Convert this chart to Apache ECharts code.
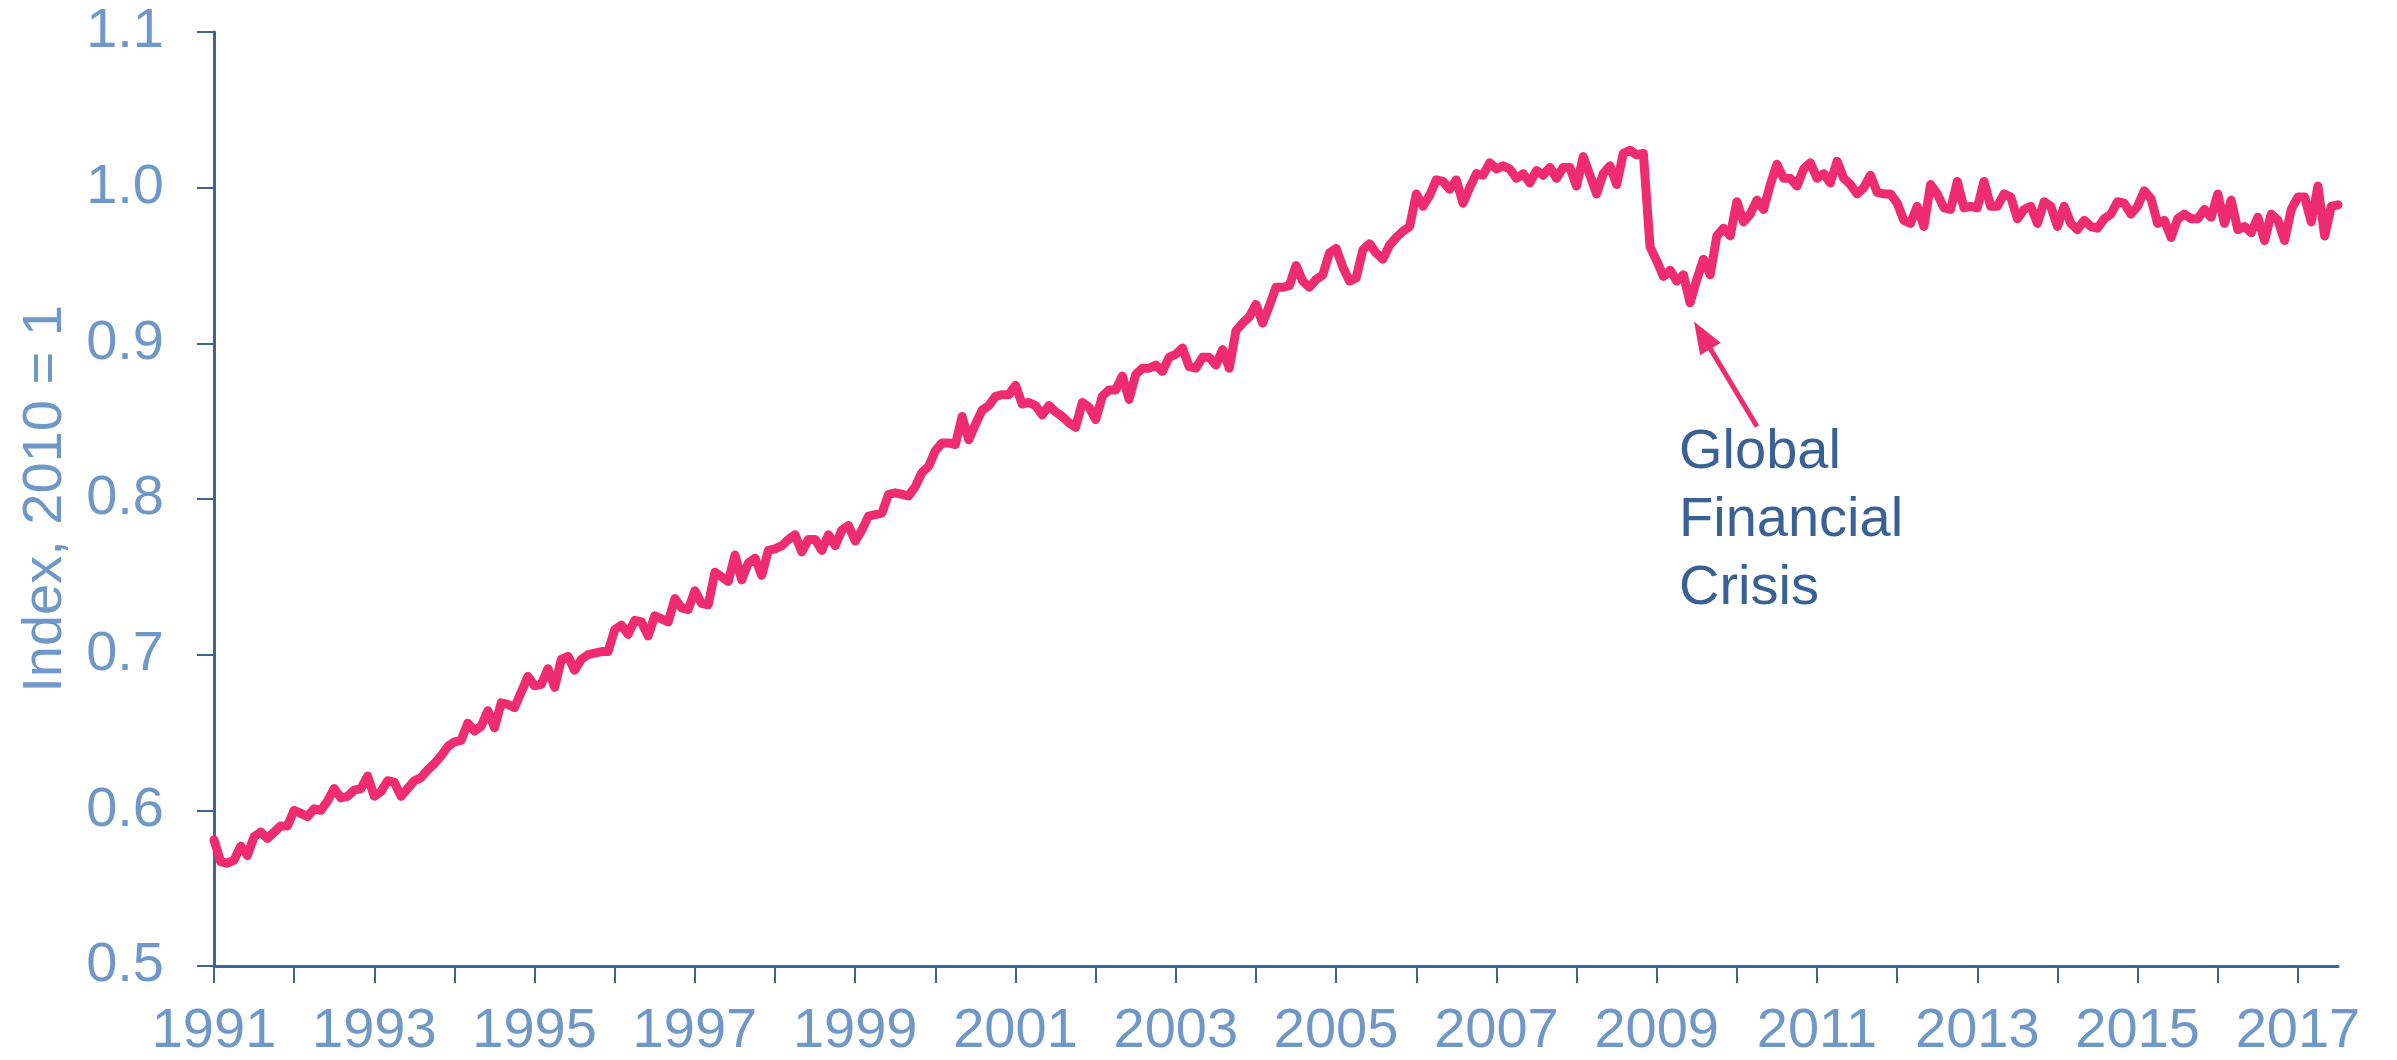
<!DOCTYPE html>
<html>
<head>
<meta charset="utf-8">
<script src="https://cdn.jsdelivr.net/npm/echarts@6/dist/echarts.min.js"></script>
<style>
html,body{margin:0;padding:0;background:#fff;}
#chart{width:2397px;height:1060px;}
</style>
</head>
<body>
<div id="chart"></div>
<script>
// Monthly index values (2010 = 1), starting January 1991
const startYear = 1991;
const v1991_1995 = [
  0.581,0.567,0.566,0.568,0.577,0.571,0.583,0.586,0.582,0.586,0.590,0.590,
  0.600,0.598,0.596,0.601,0.600,0.606,0.614,0.608,0.609,0.613,0.614,0.622,
  0.609,0.612,0.619,0.618,0.609,0.614,0.619,0.621,0.626,0.630,0.635,0.641,
  0.644,0.645,0.656,0.651,0.654,0.664,0.653,0.669,0.668,0.666,0.676,0.686,
  0.680,0.681,0.691,0.679,0.697,0.699,0.690,0.697,0.700,0.701,0.702,0.702
];
const v1996_2000 = [
  0.716,0.719,0.713,0.722,0.721,0.712,0.725,0.723,0.721,0.736,0.730,0.729,
  0.741,0.733,0.732,0.753,0.750,0.747,0.764,0.748,0.759,0.762,0.751,0.767,
  0.768,0.770,0.774,0.777,0.766,0.774,0.774,0.767,0.777,0.770,0.780,0.783,
  0.773,0.780,0.789,0.790,0.791,0.803,0.804,0.803,0.802,0.808,0.817,0.821,
  0.831,0.836,0.836,0.835,0.853,0.838,0.848,0.857,0.860,0.866,0.867,0.867
];
const v2001_2005 = [
  0.873,0.861,0.862,0.860,0.854,0.860,0.856,0.853,0.849,0.846,0.862,0.859,
  0.851,0.866,0.870,0.870,0.879,0.864,0.880,0.884,0.884,0.886,0.882,0.891,
  0.893,0.897,0.885,0.884,0.891,0.891,0.886,0.896,0.884,0.908,0.913,0.917,
  0.925,0.913,0.924,0.936,0.936,0.937,0.950,0.940,0.936,0.941,0.944,0.958,
  0.961,0.949,0.940,0.942,0.960,0.964,0.958,0.954,0.963,0.968,0.972,0.975
];
const v2006_2010 = [
  0.996,0.988,0.995,1.005,1.004,0.999,1.005,0.990,1.000,1.009,1.008,1.016,
  1.012,1.014,1.012,1.006,1.009,1.003,1.011,1.008,1.013,1.006,1.013,1.013,
  1.001,1.020,1.008,0.996,1.009,1.014,1.002,1.022,1.024,1.021,1.022,0.962,
  0.953,0.943,0.947,0.940,0.944,0.926,0.941,0.954,0.944,0.969,0.974,0.969,
  0.991,0.978,0.983,0.992,0.986,1.002,1.015,1.006,1.006,1.001,1.012,1.016
];
const v2011_2017 = [
  1.006,1.009,1.003,1.017,1.006,1.002,0.996,1.000,1.008,0.997,0.996,0.996,
  0.990,0.979,0.977,0.988,0.975,1.002,0.996,0.987,0.986,1.004,0.987,0.988,
  0.987,1.004,0.988,0.988,0.996,0.994,0.980,0.986,0.988,0.977,0.991,0.988,
  0.975,0.988,0.977,0.973,0.979,0.975,0.974,0.980,0.983,0.991,0.990,0.983,
  0.988,0.998,0.993,0.977,0.979,0.968,0.980,0.983,0.980,0.980,0.986,0.981,
  0.996,0.977,0.992,0.973,0.975,0.971,0.981,0.966,0.983,0.979,0.966,0.986,
  0.994,0.994,0.978,1.001,0.969,0.988,0.989
];
const yTicks = [0.5, 0.6, 0.7, 0.8, 0.9, 1.0, 1.1];
const xTickYears = [1991,1992,1993,1994,1995,1996,1997,1998,1999,2000,2001,2002,2003,2004,2005,2006,2007,2008,2009,2010,2011,2012,2013,2014,2015,2016,2017];
const xLabelYears = [1991,1993,1995,1997,1999,2001,2003,2005,2007,2009,2011,2013,2015,2017];
const yAxisTitle = 'Index, 2010 = 1';
const annotationText = 'Global\nFinancial\nCrisis';
// Arrow: from the text up toward the 2009 trough (data coordinates)
const arrowFrom = [2010.251, 0.8466];
const arrowTo = [2009.465, 0.914];

const monthly = [].concat(v1991_1995, v1996_2000, v2001_2005, v2006_2010, v2011_2017);
const seriesData = monthly.map((v, i) => [startYear + i / 12, v]);

const FONT = "'Liberation Sans', Arial, sans-serif";
const LABEL_COLOR = '#6F98C9';
const AXIS_COLOR = '#3D6598';
const LINE_COLOR = '#EE2C6F';

const chart = echarts.init(document.getElementById('chart'), null, {renderer: 'canvas'});
chart.setOption({
  animation: false,
  backgroundColor: '#ffffff',
  grid: {left: 214, right: 59, top: 32, bottom: 93, containLabel: false},
  xAxis: {
    type: 'value',
    min: 1991,
    max: 2017.5,
    interval: 1,
    axisLine: {show: true, lineStyle: {color: AXIS_COLOR, width: 3}},
    axisTick: {show: true, inside: false, length: 17, customValues: xTickYears,
      lineStyle: {color: AXIS_COLOR, width: 2}},
    axisLabel: {show: true, customValues: xLabelYears, margin: 38,
      fontSize: 56, fontFamily: FONT, color: LABEL_COLOR,
      formatter: v => String(Math.round(v))},
    splitLine: {show: false}
  },
  yAxis: {
    type: 'value',
    min: 0.5,
    max: 1.1,
    interval: 0.1,
    name: yAxisTitle,
    nameLocation: 'middle',
    nameRotate: 90,
    nameGap: 140,
    nameTextStyle: {fontSize: 56, fontFamily: FONT, color: LABEL_COLOR},
    axisLine: {show: true, lineStyle: {color: AXIS_COLOR, width: 3}},
    axisTick: {show: true, inside: false, length: 17, customValues: yTicks,
      lineStyle: {color: AXIS_COLOR, width: 2}},
    axisLabel: {show: true, customValues: yTicks, margin: 50,
      fontSize: 56, fontFamily: FONT, color: LABEL_COLOR,
      formatter: v => Number(v).toFixed(1)},
    splitLine: {show: false}
  },
  series: [{
    type: 'line',
    data: seriesData,
    showSymbol: false,
    symbol: 'none',
    smooth: false,
    lineStyle: {color: LINE_COLOR, width: 9, join: 'round', cap: 'round'},
    itemStyle: {color: LINE_COLOR},
    emphasis: {disabled: true}
  }]
});

// Annotation: arrow + text, anchored to data coordinates
const tail = chart.convertToPixel({gridIndex: 0}, arrowFrom);
const tip = chart.convertToPixel({gridIndex: 0}, arrowTo);
const dx = tip[0] - tail[0], dy = tip[1] - tail[1];
const len = Math.sqrt(dx * dx + dy * dy);
const ux = dx / len, uy = dy / len;
const headLen = 32, headHalf = 12;
const base = [tip[0] - ux * headLen, tip[1] - uy * headLen];
const px = -uy, py = ux;

chart.setOption({
  graphic: [
    {
      type: 'line', silent: true,
      shape: {x1: tail[0], y1: tail[1], x2: base[0] + ux * 4, y2: base[1] + uy * 4},
      style: {stroke: LINE_COLOR, lineWidth: 5}
    },
    {
      type: 'polygon', silent: true,
      shape: {points: [
        [tip[0], tip[1]],
        [base[0] + px * headHalf, base[1] + py * headHalf],
        [base[0] - px * headHalf, base[1] - py * headHalf]
      ]},
      style: {fill: LINE_COLOR}
    },
    {
      type: 'text',
      left: tail[0] - 78,
      top: tail[1] - 8,
      silent: true,
      style: {
        text: annotationText,
        font: "56px " + FONT,
        fill: '#3A6195',
        lineHeight: 68
      }
    }
  ]
});
</script>
</body>
</html>
